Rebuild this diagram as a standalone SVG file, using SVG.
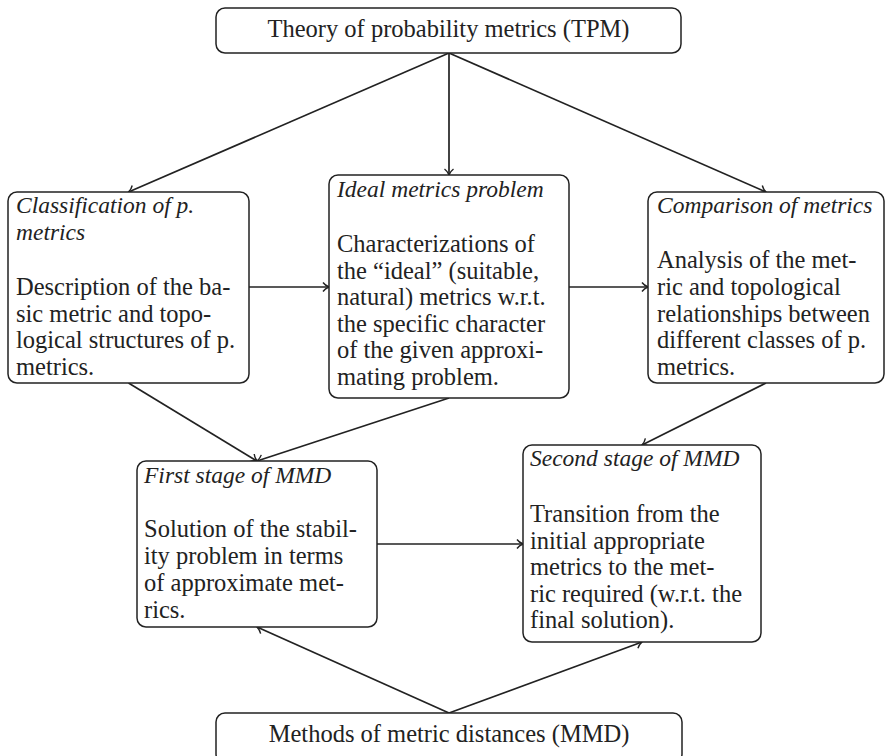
<svg xmlns="http://www.w3.org/2000/svg" width="886" height="756" viewBox="0 0 886 756">
<defs>
<style>
.box{fill:#fff;stroke:#222;stroke-width:1.5}
.t{font-family:"Liberation Serif","Times New Roman",serif;font-size:24.5px;fill:#222}
.i{font-style:italic;font-size:23.5px}
.c{text-anchor:middle}
.e{fill:none;stroke:#222;stroke-width:1.7}
</style>
<marker id="arr" viewBox="-10 -6 12 12" markerWidth="12" markerHeight="12" refX="0" refY="0" orient="auto" markerUnits="userSpaceOnUse">
<path d="M -6,-4.5 C -4,-1.8 -1,-0.4 0,0 C -1,0.4 -4,1.8 -6,4.5" fill="none" stroke="#222" stroke-width="1.4"/>
</marker>
</defs>
<rect width="886" height="756" fill="#fff"/>
<g id="connectors">
<line class="e" x1="449" y1="53" x2="128.5" y2="192" marker-end="url(#arr)"/>
<line class="e" x1="449" y1="53" x2="449" y2="175" marker-end="url(#arr)"/>
<line class="e" x1="449" y1="53" x2="766" y2="192" marker-end="url(#arr)"/>
<line class="e" x1="249" y1="287" x2="329" y2="287" marker-end="url(#arr)"/>
<line class="e" x1="569" y1="287" x2="648" y2="287" marker-end="url(#arr)"/>
<line class="e" x1="128.5" y1="383" x2="257" y2="461" marker-end="url(#arr)"/>
<line class="e" x1="449" y1="398" x2="257" y2="461" marker-end="url(#arr)"/>
<line class="e" x1="766" y1="383" x2="642" y2="445" marker-end="url(#arr)"/>
<line class="e" x1="377" y1="544" x2="523" y2="544" marker-end="url(#arr)"/>
<line class="e" x1="449" y1="713" x2="257" y2="627" marker-end="url(#arr)"/>
<line class="e" x1="449" y1="713" x2="642" y2="642" marker-end="url(#arr)"/>
</g>
<g id="tpm">
<rect class="box" x="216" y="8" width="465" height="45" rx="9"/>
<text class="t c" x="448.5" y="37">Theory of probability metrics (TPM)</text>
</g>
<g id="classification">
<rect class="box" x="8" y="192" width="241" height="191" rx="9"/>
<text class="t i" x="16" y="213">Classification of p.</text>
<text class="t i" x="16" y="240">metrics</text>
<text class="t" x="16" y="295">Description of the ba-</text>
<text class="t" x="16" y="322">sic metric and topo-</text>
<text class="t" x="16" y="348">logical structures of p.</text>
<text class="t" x="16" y="375">metrics.</text>
</g>
<g id="ideal">
<rect class="box" x="329" y="175" width="240" height="223" rx="9"/>
<text class="t i" x="337" y="197">Ideal metrics problem</text>
<text class="t" x="337" y="252">Characterizations of</text>
<text class="t" x="337" y="278.5">the “ideal” (suitable,</text>
<text class="t" x="337" y="305">natural) metrics w.r.t.</text>
<text class="t" x="337" y="331.5">the specific character</text>
<text class="t" x="337" y="358">of the given approxi-</text>
<text class="t" x="337" y="384.5">mating problem.</text>
</g>
<g id="comparison">
<rect class="box" x="648" y="192" width="236" height="191" rx="9"/>
<text class="t i" x="657" y="213">Comparison of metrics</text>
<text class="t" x="657" y="268">Analysis of the met-</text>
<text class="t" x="657" y="295">ric and topological</text>
<text class="t" x="657" y="322">relationships between</text>
<text class="t" x="657" y="348">different classes of p.</text>
<text class="t" x="657" y="375">metrics.</text>
</g>
<g id="first">
<rect class="box" x="137" y="461" width="240" height="166" rx="9"/>
<text class="t i" x="144" y="483">First stage of MMD</text>
<text class="t" x="144" y="537">Solution of the stabil-</text>
<text class="t" x="144" y="564">ity problem in terms</text>
<text class="t" x="144" y="591">of approximate met-</text>
<text class="t" x="144" y="618">rics.</text>
</g>
<g id="second">
<rect class="box" x="523" y="445" width="238" height="197" rx="9"/>
<text class="t i" x="530" y="466">Second stage of MMD</text>
<text class="t" x="530" y="522">Transition from the</text>
<text class="t" x="530" y="548.5">initial appropriate</text>
<text class="t" x="530" y="575">metrics to the met-</text>
<text class="t" x="530" y="601.5">ric required (w.r.t. the</text>
<text class="t" x="530" y="628">final solution).</text>
</g>
<g id="mmd">
<rect class="box" x="216" y="713" width="466" height="50" rx="9"/>
<text class="t c" x="449" y="742">Methods of metric distances (MMD)</text>
</g>
</svg>
